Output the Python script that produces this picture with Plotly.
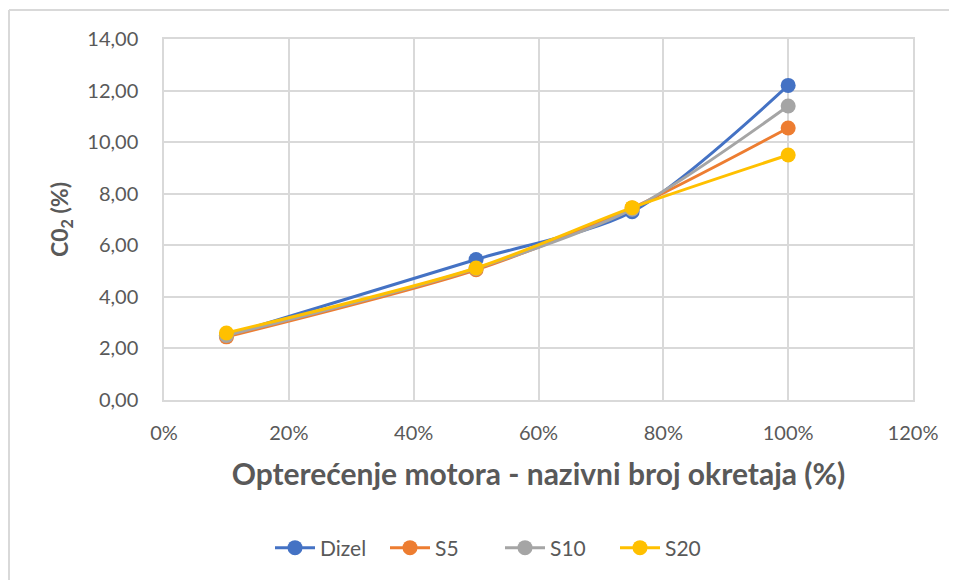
import plotly.graph_objects as go

load = [0.10, 0.50, 0.75, 1.00]
dizel = [2.50, 5.45, 7.30, 12.20]
s5 = [2.45, 5.05, 7.45, 10.55]
s10 = [2.50, 5.10, 7.40, 11.40]
s20 = [2.60, 5.12, 7.46, 9.50]

series = [("Dizel", dizel, "#4472C4"), ("S5", s5, "#ED7D31"),
          ("S10", s10, "#A5A5A5"), ("S20", s20, "#FFC000")]

fig = go.Figure()
for name, vals, col in series:
    fig.add_trace(go.Scatter(x=load, y=vals, name=name, mode="lines+markers",
                             line=dict(color=col, width=3, shape="spline", smoothing=0.8),
                             marker=dict(color=col, size=15)))

# page pixel geometry (body has 8px margin)
OFF = 8
L, R, T, B = 164, 913, 39, 400
W, H = 957, 580
pw, ph = R - L, B - T
font = "Lato"
gray = "#595959"
grid = "#d9d9d9"

fig.update_layout(
    width=W - OFF, height=H - OFF,
    margin=dict(l=L - OFF, r=W - R, t=T - OFF, b=H - B),
    paper_bgcolor="white", plot_bgcolor="white",
    separators=", ",
    font=dict(family=font, color=gray, size=20),
    xaxis=dict(range=[0, 1.2], dtick=0.2, tickformat=".0%", showgrid=True,
               gridcolor=grid, gridwidth=1.5, showline=True, linecolor=grid,
               linewidth=1.5, mirror=True, zeroline=False, ticks="",
               ticklabelstandoff=14,
               tickfont=dict(size=20, color=gray),
               title=dict(text="<b>Opterećenje motora - nazivni broj okretaja (%)</b>",
                          font=dict(size=30, color=gray), standoff=21)),
    yaxis=dict(range=[0, 14], dtick=2, tickformat=".2f", showgrid=True,
               gridcolor=grid, gridwidth=1.5, showline=True, linecolor=grid,
               linewidth=1.5, mirror=True, zeroline=False, ticks="",
               ticklabelstandoff=20,
               tickfont=dict(size=20, color=gray),
               title=dict(text="<b>C0<sub>2</sub> (%)</b>",
                          font=dict(size=23, color=gray), standoff=12)),
    legend=dict(orientation="h", x=(500 - L) / pw, xanchor="center",
                y=(B - 548) / ph, yanchor="middle",
                font=dict(size=21, color=gray), itemwidth=40,
                entrywidth=60, entrywidthmode="pixels"),
    shapes=[
        dict(type="line", xref="paper", yref="paper",
             x0=(9 - L) / pw, x1=(W + 5 - L) / pw, y0=(B - 10) / ph, y1=(B - 10) / ph,
             line=dict(color=grid, width=2)),
        dict(type="line", xref="paper", yref="paper",
             x0=(9 - L) / pw, x1=(9 - L) / pw, y0=(B - 10) / ph, y1=(B - H - 5) / ph,
             line=dict(color=grid, width=2)),
    ],
)

fig.write_html("out.html")
